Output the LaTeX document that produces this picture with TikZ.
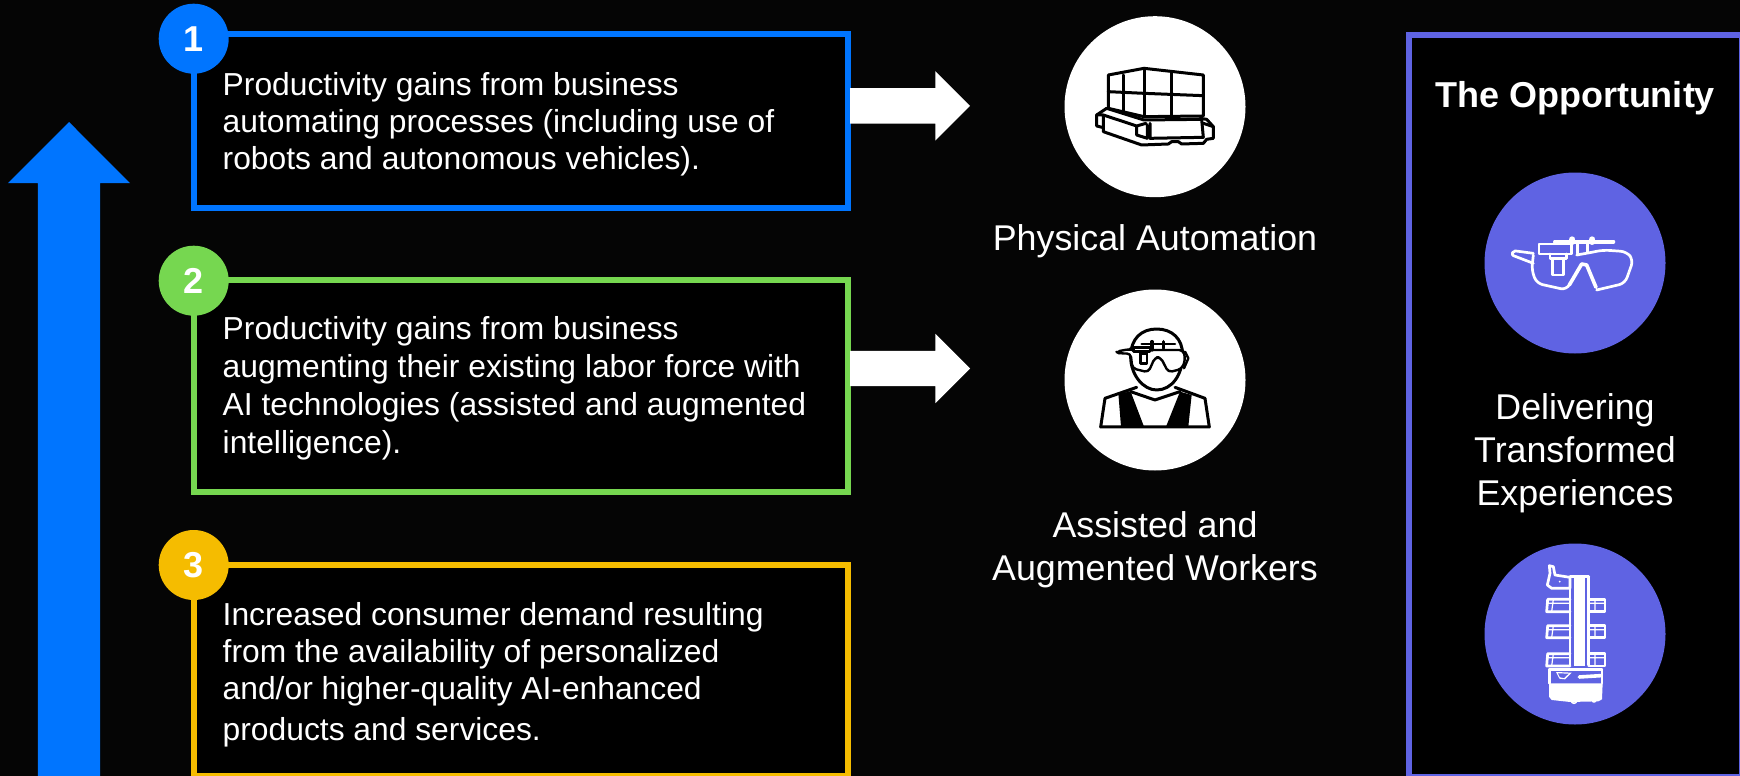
\documentclass[tikz,border=0pt]{standalone}
\usepackage{fontspec}
\setmainfont{Liberation Sans}
\usetikzlibrary{shapes.arrows}
\definecolor{pageblack}{HTML}{050505}
\definecolor{bluec}{HTML}{0075FF}
\definecolor{greenc}{HTML}{76D750}
\definecolor{yellowc}{HTML}{F5BC00}
\definecolor{purplec}{HTML}{5F63E3}
\tikzset{
  panel/.style={draw=#1,line width=6pt,fill=black},
  badge/.style={circle,fill=#1,minimum size=70pt,inner sep=0pt,text=white,font=\fontsize{36}{36}\selectfont\bfseries},
  body/.style={anchor=base west,align=left,inner sep=0pt,text=white,font=\fontsize{31.8}{37.6}\selectfont},
  lab/.style={anchor=base,align=center,inner sep=0pt,text=white,font=\fontsize{35.8}{43}\selectfont},
  disc/.style={circle,fill=#1,minimum size=181pt,inner sep=0pt},
  sidearrow/.style={single arrow,fill=white,minimum height=120pt,minimum width=69pt,single arrow head extend=17pt,inner xsep=0pt,inner ysep=17.5pt,outer sep=0pt,anchor=tip},
  inkb/.style={draw=black,line width=3pt,line join=round,line cap=round},
  inkw/.style={draw=white,line width=2.7pt,line join=round,line cap=round},
}
\begin{document}
\begin{tikzpicture}[x=1pt,y=-1pt]
\useasboundingbox (0,0) rectangle (1740,776);
\clip (0,0) rectangle (1740,776);
\fill[pageblack] (0,0) rectangle (1740,776);
% rising arrow
\node[single arrow,fill=bluec,shape border rotate=90,anchor=tip,minimum height=680pt,minimum width=122pt,single arrow head extend=30pt,inner xsep=31pt,inner ysep=0pt,outer sep=0pt] (rise) at (69,122) {};
% text panels
\draw[panel=bluec] (194,34.5) rectangle (847.5,208);
\draw[panel=greenc] (194,280.3) rectangle (847.5,492.3);
\draw[panel=yellowc] (194,564.7) rectangle (847.5,776.3);
\draw[panel=purplec] (1408.7,35) rectangle (1742,777);
\node[badge=bluec] (n1) at (193.7,38.7) {1};
\node[badge=greenc] (n2) at (193.7,280.7) {2};
\node[badge=yellowc] (n3) at (193.7,565) {3};
\node[body] (t1) at (222.5,169.3) {Productivity gains from business\\[-0.6pt]automating processes (including use of\\[-0.6pt]robots and autonomous vehicles).};
\node[body] (t2) at (222.5,453) {Productivity gains from business\\[0.4pt]augmenting their existing labor force with\\[0.4pt]AI technologies (assisted and augmented\\[0.4pt]intelligence).};
\node[body] (t3) at (222.5,740) {Increased consumer demand resulting\\[-0.8pt]from the availability of personalized\\[-0.4pt]and/or higher-quality AI-enhanced\\[3pt]products and services.};
% side arrows
\node[sidearrow] (a1) at (970,105.8) {};
\node[sidearrow] (a2) at (970,368.5) {};
% discs
\node[disc=white] (d1) at (1155,106.7) {};
\node[disc=white] (d2) at (1155,380) {};
\node[disc=purplec] (d3) at (1575,263) {};
\node[disc=purplec] (d4) at (1575,634) {};
% labels
\node[lab] (l1) at (1155,250.5) {Physical Automation};
\node[lab] (l2) at (1155,580) {Assisted and\\Augmented Workers};
\node[lab,font=\fontsize{36}{36}\selectfont\bfseries] (l3) at (1575,107) {The Opportunity};
\node[lab] (l4) at (1575,505) {Delivering\\Transformed\\Experiences};
% pallet on robot
\begin{scope}[shift={(1040,40)},x=0.3333pt,y=-0.3333pt]
\draw[inkb] (205,205) -- (205,105) -- (312,85) -- (490,105) -- (490,228) -- (312,230) -- cycle;
\draw[inkb] (250,105) -- (250,212) (312,85) -- (312,230) (395,100) -- (395,228);
\draw[inkb] (205,155) -- (312,160) -- (490,167);
\draw[inkb] (200,205) -- (170,225) -- (170,258) -- (190,263) -- (190,275) -- (305,315) -- (385,312) -- (395,305) -- (415,305) -- (425,312) -- (490,310) -- (500,298) -- (520,295) -- (520,260) -- (500,238) -- (480,235);
\draw[inkb] (170,225) -- (190,225) -- (190,263) (190,225) -- (290,258) -- (290,285) -- (322,295) -- (322,255) (290,258) -- (318,250);
\draw[inkb] (200,205) -- (312,240) -- (485,238) -- (490,292) -- (330,295) -- (330,250);
\draw[inkb] (490,250) -- (520,260);
\end{scope}
% worker
\begin{scope}[shift={(1040,300)},x=0.3333pt,y=-0.3333pt]
\draw[inkb] (350,87) .. controls (305,87) and (272,115) .. (272,170) .. controls (272,225) and (310,270) .. (350,270) .. controls (395,270) and (428,225) .. (428,165) .. controls (428,115) and (395,87) .. (350,87) -- cycle;
\draw[inkb,fill=white,line width=2.4pt,rounded corners=4pt] (228,155) -- (270,147) -- (280,150) -- (430,150) -- (436,180) -- (425,207) -- (385,217) -- (362,172) -- (345,172) -- (325,217) -- (277,205) -- (272,160) -- (240,161) -- cycle;
\draw[inkb,line width=2.4pt] (435,155) -- (445,175) -- (432,205);
\draw[inkb,line width=2.4pt,fill=white] (280,142) rectangle (330,155);
\draw[inkb,line width=2.4pt,fill=white] (301,160) rectangle (321,190);
\draw[inkb,line width=2.6pt] (305,132) -- (405,132);
\draw[inkb,line width=3.4pt] (336,125) -- (336,150) (370,125) -- (370,145);
\draw[inkb] (290,262) -- (195,295) -- (182,381) -- (508,381) -- (495,295) -- (405,262);
\fill[black] (235,280) -- (272,275) -- (312,380) -- (243,380) -- cycle;
\fill[black] (420,275) -- (455,285) -- (445,380) -- (378,380) -- cycle;
\draw[inkb] (272,275) -- (345,300) -- (420,275);
\end{scope}
% glasses
\begin{scope}[shift={(1470,170)},x=0.3333pt,y=-0.3333pt]
\draw[inkw,rounded corners=6pt] (190,255) -- (185,300) -- (200,340) -- (290,360) -- (300,340);
\draw[inkw,rounded corners=6pt] (380,360) -- (465,340) -- (490,270) -- (470,245) -- (400,240) -- (360,248) -- (320,255);
\draw[inkw,line width=3.6pt] (298,345) -- (335,282) -- (350,285) -- (378,352);
\draw[inkw,rounded corners=2pt] (190,250) -- (130,242) -- (125,255) -- (190,280);
\draw[inkw] (207,222) rectangle (305,252);
\draw[inkw] (248,265) rectangle (280,315);
\draw[inkw] (240,252) -- (240,265) -- (290,265) -- (290,252);
\draw[inkw,line width=4pt] (255,215) -- (430,215);
\draw[inkw,line width=6pt] (307,208) -- (307,216) (367,208) -- (367,216);
\draw[inkw] (322,215) -- (322,250) (352,215) -- (352,245);
\end{scope}
% serving robot
\begin{scope}[shift={(1470,540)},x=0.3333pt,y=-0.3333pt]
\draw[inkw] (238,77) -- (250,80) -- (255,105) -- (300,112) -- (300,145) -- (245,145) -- (232,135) -- (240,100) -- cycle;
\fill[white] (269,125) circle (3);
\draw[inkw] (300,145) -- (300,375) (356,112) -- (356,375) (300,110) -- (356,110);
\fill[white] (311,110) rectangle (346,378);
\foreach \ya/\yb in {178/215,257/293,341/378} {
  \draw[inkw] (300,\ya) -- (233,\ya) -- (230,\yb) -- (300,\yb);
  \draw[inkw] (356,\ya) -- (405,\ya) -- (405,\yb) -- (356,\yb);
  \draw[inkw,line width=1.2pt] (250,\ya) -- (245,\yb) (375,\ya) -- (375,\yb) (233,{\ya+12}) -- (300,{\ya+12}) (356,{\ya+12}) -- (405,{\ya+12});
}
\draw[inkw] (238,388) -- (395,388);
\fill[white] (237,430) -- (398,430) -- (396,478) -- (385,484) -- (300,486) -- (245,480) -- (237,470) -- cycle;
\draw[inkw] (238,388) -- (238,430) (396,388) -- (396,430);
\fill[white] (258,396) -- (305,398) -- (285,418) -- (268,416) -- cycle;
\fill[purplec] (264,400) -- (296,401) -- (282,414) -- (270,412) -- cycle;
\draw[inkw,line width=3.6pt] (328,411) -- (392,407);
\draw[inkw,line width=1.6pt] (312,482) circle (8) (372,480) circle (6);
\end{scope}
\end{tikzpicture}
\end{document}
